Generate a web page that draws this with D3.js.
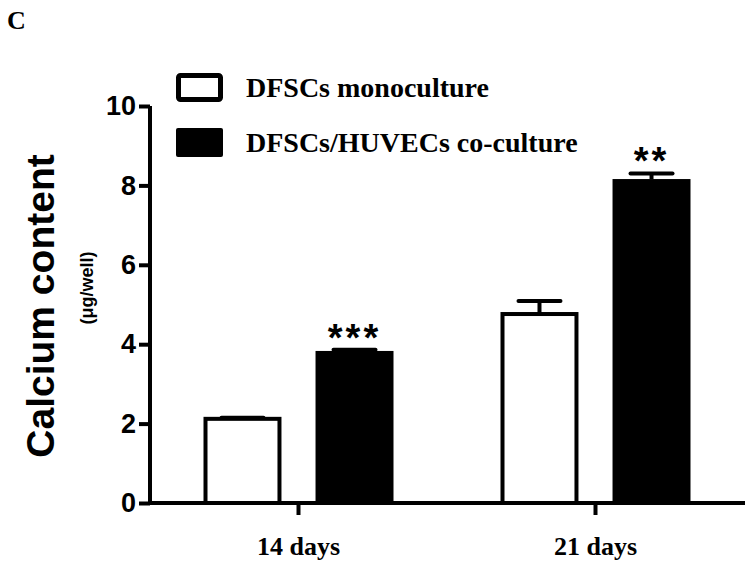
<!DOCTYPE html>
<html>
<head>
<meta charset="utf-8">
<script src="https://cdn.jsdelivr.net/npm/d3@7"></script>
<style>
  body { margin: 0; background: #fff; }
  svg { display: block; }
</style>
</head>
<body>
<div id="chart"></div>
<script>
// data ======================================================
var groups = ["14 days", "21 days"];
var series = ["DFSCs monoculture", "DFSCs/HUVECs co-culture"];
var monoMean = [2.12, 4.76];
var monoErr  = [0.03, 0.33];
var coMean   = [3.83, 8.16];
var coErr    = [0.03, 0.14];
var signif   = ["***", "**"];
var yTicks   = [0, 2, 4, 6, 8, 10];
// ===========================================================

var w = 750, h = 564;
var svg = d3.select("#chart").append("svg")
            .attr("width", w).attr("height", h)
            .style("background", "white");

var x = d3.scaleBand().domain(groups).range([150, 744]).padding(0);
var xs = d3.scaleBand().domain(series).range([-95, 95]).paddingInner(0.304);
var y = d3.scaleLinear().domain([0, 10]).range([503, 106]);

var rows = [];
groups.forEach(function(g, i) {
    rows.push({g: g, s: series[0], v: monoMean[i], e: monoErr[i]});
    rows.push({g: g, s: series[1], v: coMean[i], e: coErr[i], sig: signif[i]});
});
function cx(d) { return x(d.g) + x.bandwidth() / 2 + xs(d.s) + xs.bandwidth() / 2; }

// error bars (upper only) ===================================
var eb = svg.append("g").attr("stroke", "black").attr("stroke-width", 4);
eb.selectAll("line.stem").data(rows).enter().append("line")
  .attr("x1", cx).attr("x2", cx)
  .attr("y1", function(d){ return y(d.v); })
  .attr("y2", function(d){ return y(d.v + d.e); });
eb.selectAll("line.cap").data(rows).enter().append("line")
  .attr("x1", function(d){ return cx(d) - 21; })
  .attr("x2", function(d){ return cx(d) + 21; })
  .attr("y1", function(d){ return y(d.v + d.e); })
  .attr("y2", function(d){ return y(d.v + d.e); })
  .attr("stroke-linecap", "round");

// bars ======================================================
svg.append("g").selectAll("rect").data(rows).enter().append("rect")
   .attr("x", function(d){ return d.s === series[0] ? cx(d) - xs.bandwidth()/2 + 2 : cx(d) - xs.bandwidth()/2; })
   .attr("width", function(d){ return d.s === series[0] ? xs.bandwidth() - 4 : xs.bandwidth(); })
   .attr("y", function(d){ return y(d.v); })
   .attr("height", function(d){ return y(0) - y(d.v); })
   .attr("fill", function(d){ return d.s === series[0] ? "white" : "black"; })
   .attr("stroke", function(d){ return d.s === series[0] ? "black" : "none"; })
   .attr("stroke-width", 4);

// significance stars
svg.append("g").selectAll("text").data(rows.filter(function(d){ return d.sig; }))
   .enter().append("text")
   .attr("x", cx)
   .attr("y", function(d){ return y(d.v + d.e) + 1; })
   .attr("text-anchor", "middle")
   .style("font-family", "Liberation Sans, Arial, sans-serif")
   .style("font-weight", "bold")
   .style("font-size", "38px")
   .style("letter-spacing", "3px")
   .text(function(d){ return d.sig; });

// axes ======================================================
var yAxis = svg.append("g").attr("transform", "translate(150,0)")
   .call(d3.axisLeft(y).tickValues(yTicks).tickSize(11).tickPadding(3));
var xAxis = svg.append("g").attr("transform", "translate(0,503)")
   .call(d3.axisBottom(x).tickSize(12).tickPadding(22));

[yAxis, xAxis].forEach(function(a) {
    a.select(".domain").attr("stroke-width", 4).attr("stroke", "black");
    a.selectAll(".tick line").attr("stroke-width", 4).attr("stroke", "black");
});
yAxis.select(".domain").attr("d", "M0," + y(10) + "V" + y(0));
xAxis.select(".domain").attr("d", "M150,0H745");
yAxis.selectAll(".tick text")
     .style("font-family", "Liberation Sans, Arial, sans-serif")
     .style("font-weight", "bold").style("font-size", "27px").attr("fill", "black");
xAxis.selectAll(".tick text")
     .style("font-family", "Liberation Serif, Times New Roman, serif")
     .style("font-weight", "bold").style("font-size", "26px").attr("fill", "black");

// titles ====================================================
svg.append("text").attr("x", 7).attr("y", 29)
   .style("font-family", "Liberation Serif, Times New Roman, serif")
   .style("font-weight", "bold").style("font-size", "26px").text("C");

svg.append("text").attr("transform", "translate(54,306) rotate(-90)")
   .attr("text-anchor", "middle")
   .style("font-family", "Liberation Sans, Arial, sans-serif")
   .style("font-weight", "bold").style("font-size", "39px")
   .text("Calcium content");
svg.append("text").attr("transform", "translate(93,288) rotate(-90)")
   .attr("text-anchor", "middle")
   .style("font-family", "Liberation Sans, Arial, sans-serif")
   .style("font-weight", "bold").style("font-size", "18px")
   .text("(μg/well)");

// legend ====================================================
var legend = svg.append("g");
legend.selectAll("rect").data(series).enter().append("rect")
   .attr("x", 178.5)
   .attr("y", function(d, i){ return i === 0 ? 75.5 : 128; })
   .attr("width", function(d, i){ return i === 0 ? 42 : 47; })
   .attr("height", function(d, i){ return i === 0 ? 24 : 29; })
   .attr("transform", function(d, i){ return i === 0 ? null : "translate(-2.5,0)"; })
   .attr("rx", 2)
   .attr("fill", function(d, i){ return i === 0 ? "white" : "black"; })
   .attr("stroke", function(d, i){ return i === 0 ? "black" : "none"; })
   .attr("stroke-width", 5);
legend.selectAll("text").data(series).enter().append("text")
   .attr("x", 246)
   .attr("y", function(d, i){ return i === 0 ? 97 : 152; })
   .style("font-family", "Liberation Serif, Times New Roman, serif")
   .style("font-weight", "bold").style("font-size", "28px")
   .text(function(d){ return d; });
</script>
</body>
</html>
